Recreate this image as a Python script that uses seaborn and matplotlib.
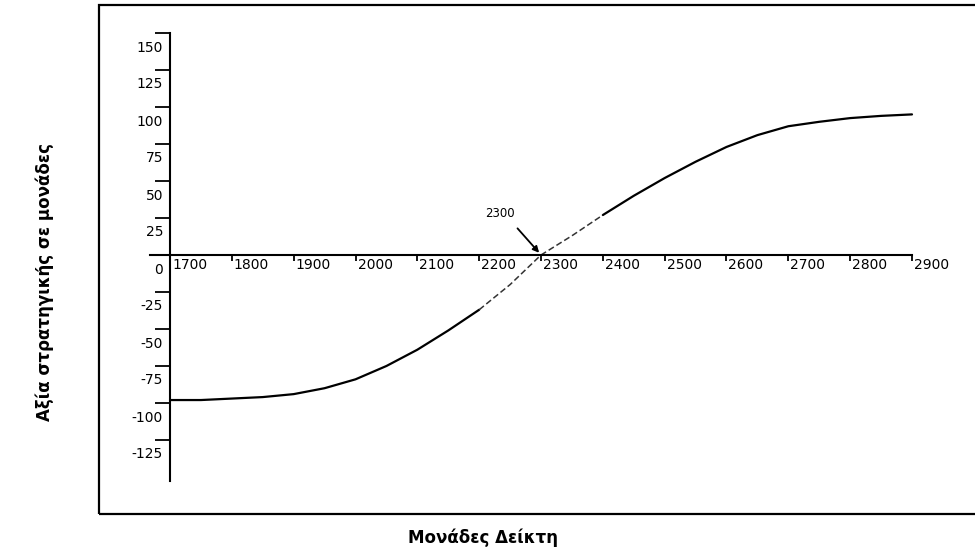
#!/usr/bin/env python3
"""
Strategy value versus index level (S-shaped payoff curve)
Run: python plot.py
"""

import numpy as np
import pandas as pd
import matplotlib
matplotlib.use('Agg')
import matplotlib.pyplot as plt
import matplotlib.transforms as mtransforms
from matplotlib.patches import Rectangle
import seaborn as sns

# Index level (x) and strategy value (y)
index_points = [1700, 1750, 1800, 1850, 1900, 1950, 2000, 2050, 2100, 2150,
                2200, 2250, 2300, 2350, 2400, 2450, 2500, 2550, 2600, 2650,
                2700, 2750, 2800, 2850, 2900]
strategy_value = [-98, -98, -97, -96, -94, -90, -84, -75, -64, -51,
                  -37, -20, 0, 13, 27, 40, 52, 63, 73, 81,
                  87, 90, 92.5, 94, 95]

x_ticks = list(range(1700, 3000, 100))
y_ticks = [-125, -100, -75, -50, -25, 0, 25, 50, 75, 100, 125, 150]

x_label = 'Μονάδες Δείκτη'
y_label = 'Αξία στρατηγικής σε μονάδες'
breakeven_label = '2300'
breakeven_x = 2300

W, H, DPI = 975, 555, 100


def px_box(left, top, right, bottom):
    """pixel box -> figure fraction [l, b, w, h]"""
    return [left / W, (H - bottom) / H, (right - left) / W, (bottom - top) / H]


def main():
    sns.set_style('white')
    plt.rcParams['font.family'] = ['DejaVu Sans']

    df = pd.DataFrame({'index': index_points, 'value': strategy_value})

    fig = plt.figure(figsize=(W / DPI, H / DPI), dpi=DPI)
    ax = fig.add_axes(px_box(150, 30, 925, 490))

    # scan shows the middle part broken / dashed, ends solid
    low = df[df['index'] <= 2200]
    mid = df[(df['index'] >= 2200) & (df['index'] <= 2400)]
    high = df[df['index'] >= 2400]
    for part in (low, high):
        sns.lineplot(data=part, x='index', y='value', ax=ax, color='black',
                     linewidth=1.6, legend=False)
    sns.lineplot(data=mid, x='index', y='value', ax=ax, color='#333333',
                 linewidth=1.1, linestyle=(0, (4, 2)), legend=False)

    x0 = 1700 - 20 / 0.618
    ax.set_xlim(x0, 2900 + 13 / 0.618)
    ax.set_ylim(-235 / 1.48, 225 / 1.48)

    # axes crossing at (1700, 0)
    ax.spines['top'].set_visible(False)
    ax.spines['right'].set_visible(False)
    ax.spines['left'].set_position(('data', 1700))
    ax.spines['bottom'].set_position(('data', 0))
    ax.spines['left'].set_bounds(-153, 150)
    ax.spines['bottom'].set_bounds(x0, 2900)
    for s in ('left', 'bottom'):
        ax.spines[s].set_linewidth(1.5)
        ax.spines[s].set_color('black')

    ax.set_xticks(x_ticks)
    ax.set_yticks(y_ticks)
    ax.set_xticklabels([str(t) for t in x_ticks])
    ax.set_yticklabels([str(t) for t in y_ticks])
    ax.tick_params(axis='x', bottom=True, direction='out', length=4.5,
                   width=1.3, pad=-2, labelsize=10, colors='black')
    ax.tick_params(axis='y', left=True, direction='out', length=10.8,
                   width=1.3, pad=-5.8, labelsize=10, colors='black')
    ax.set_xlabel('')
    ax.set_ylabel('')

    # labels sit right of x ticks and below y ticks, as in the scan
    shift_x = mtransforms.ScaledTranslation(2 / DPI, 0, fig.dpi_scale_trans)
    for lab in ax.get_xticklabels():
        lab.set_horizontalalignment('left')
        lab.set_transform(lab.get_transform() + shift_x)
    shift_y = mtransforms.ScaledTranslation(0, -13 / DPI, fig.dpi_scale_trans)
    for lab in ax.get_yticklabels():
        lab.set_transform(lab.get_transform() + shift_y)

    # break-even annotation
    ax.text(2234, 28, breakeven_label, fontsize=8.5, color='black',
            ha='center', va='center')
    ax.annotate('', xy=(breakeven_x - 3, 1.5), xytext=(2262, 18),
                arrowprops=dict(arrowstyle='-|>', color='black', lw=1.3,
                                mutation_scale=9, shrinkA=0, shrinkB=0))

    # frame around the plot (right side runs off the page)
    frame = Rectangle((99 / W, (H - 514) / H), 2.0, (514 - 5) / H,
                      transform=fig.transFigure, fill=False,
                      edgecolor='black', linewidth=1.6, clip_on=False)
    fig.patches.append(frame)

    fig.text(45 / W, (H - 282) / H, y_label, rotation=90, ha='center',
             va='center', fontsize=12, fontweight='bold', color='black')
    fig.text(483 / W, (H - 538) / H, x_label, ha='center', va='center',
             fontsize=12, fontweight='bold', color='black')

    fig.savefig('out.png', dpi=DPI, facecolor='white')
    plt.close(fig)
    print("[SAVED] out.png")


if __name__ == "__main__":
    main()
